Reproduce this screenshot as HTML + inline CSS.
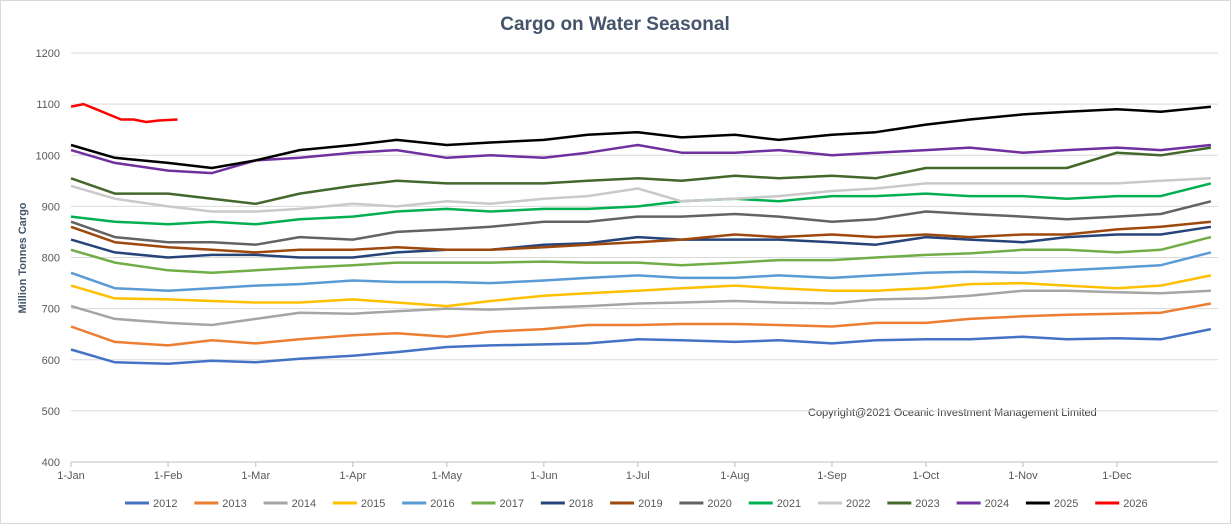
<!DOCTYPE html>
<html><head><meta charset="utf-8"><style>
html,body{margin:0;padding:0;background:#fff;}
svg{display:block;font-family:"Liberation Sans",sans-serif;}
</style></head><body>
<svg id="chart" width="1231" height="524">
<rect x="0.5" y="0.5" width="1230" height="523" fill="#fff" stroke="#d9d9d9"/>
<text x="615" y="30" text-anchor="middle" font-size="19" font-weight="bold" fill="#44546a">Cargo on Water Seasonal</text>
<text transform="translate(26,258) rotate(-90)" text-anchor="middle" font-size="11" font-weight="bold" fill="#44546a">Million Tonnes Cargo</text>
<text x="808" y="416" font-size="11" fill="#404040">Copyright@2021 Oceanic Investment Management Limited</text>
<g id="grid"></g><g id="series"></g><g id="legend"></g>
</svg>
<script>
const yTicks=[400,500,600,700,800,900,1000,1100,1200];
const monthLabels=["1-Jan","1-Feb","1-Mar","1-Apr","1-May","1-Jun","1-Jul","1-Aug","1-Sep","1-Oct","1-Nov","1-Dec"];
const monthDays=[0,31,59,90,120,151,181,212,243,273,304,334];
const sampleDays=[0,14,31,45,59,73,90,104,120,134,151,165,181,195,212,226,243,257,273,287,304,318,334,348,364];
const seriesNames=["2012","2013","2014","2015","2016","2017","2018","2019","2020","2021","2022","2023","2024","2025","2026"];
const seriesColors=["#4472c4","#ed7d31","#a5a5a5","#ffc000","#5b9bd5","#70ad47","#264478","#9e480e","#636363","#00b050","#c9c9c9","#43682b","#7030a0","#000000","#ff0000"];
const s2012=[620,595,592,598,595,602,608,615,625,628,630,632,640,638,635,638,632,638,640,640,645,640,642,640,660];
const s2013=[665,635,628,638,632,640,648,652,645,655,660,668,668,670,670,668,665,672,672,680,685,688,690,692,710];
const s2014=[705,680,672,668,680,692,690,695,700,698,702,705,710,712,715,712,710,718,720,725,735,735,732,730,735];
const s2015=[745,720,718,715,712,712,718,712,705,715,725,730,735,740,745,740,735,735,740,748,750,745,740,745,765];
const s2016=[770,740,735,740,745,748,755,752,752,750,755,760,765,760,760,765,760,765,770,772,770,775,780,785,810];
const s2017=[815,790,775,770,775,780,785,790,790,790,792,790,790,785,790,795,795,800,805,808,815,815,810,815,840];
const s2018=[835,810,800,805,805,800,800,810,815,815,825,828,840,835,835,835,830,825,840,835,830,840,845,845,860];
const s2019=[860,830,820,815,810,815,815,820,815,815,820,825,830,835,845,840,845,840,845,840,845,845,855,860,870];
const s2020=[870,840,830,830,825,840,835,850,855,860,870,870,880,880,885,880,870,875,890,885,880,875,880,885,910];
const s2021=[880,870,865,870,865,875,880,890,895,890,895,895,900,910,915,910,920,920,925,920,920,915,920,920,945];
const s2022=[940,915,900,890,890,895,905,900,910,905,915,920,935,910,915,920,930,935,945,945,945,945,945,950,955];
const s2023=[955,925,925,915,905,925,940,950,945,945,945,950,955,950,960,955,960,955,975,975,975,975,1005,1000,1015];
const s2024=[1010,985,970,965,990,995,1005,1010,995,1000,995,1005,1020,1005,1005,1010,1000,1005,1010,1015,1005,1010,1015,1010,1020];
const s2025=[1020,995,985,975,990,1010,1020,1030,1020,1025,1030,1040,1045,1035,1040,1030,1040,1045,1060,1070,1080,1085,1090,1085,1095];
const days2026=[0,4,8,12,16,20,24,28,34];
const s2026=[1095,1100,1090,1080,1070,1070,1065,1068,1070];
const allSeries=[s2012,s2013,s2014,s2015,s2016,s2017,s2018,s2019,s2020,s2021,s2022,s2023,s2024,s2025,s2026];

const NS="http://www.w3.org/2000/svg";
const X0=71,X1=1214,Y0=462,Y1=53;
function xs(d){return X0+d*(X1-X0)/365;}
function ys(v){return Y0-(v-400)*(Y0-Y1)/800;}
function mk(t,a,p){const e=document.createElementNS(NS,t);for(const k in a)e.setAttribute(k,a[k]);p.appendChild(e);return e;}
const grid=document.getElementById('grid');
yTicks.forEach(v=>{
  const l=mk('line',{x1:X0,x2:1218,y1:ys(v),y2:ys(v),stroke:v===400?'#bfbfbf':'#d9d9d9'},grid);
  
  
  const t=mk('text',{x:60,y:ys(v)+4,'text-anchor':'end','font-size':11,fill:'#595959'},grid);
  t.textContent=v;
  
  
});
monthLabels.forEach((m,i)=>{
  const x=xs(monthDays[i]);
  const tk=mk('line',{x1:x,x2:x,y1:Y0,y2:Y0+5,stroke:'#bfbfbf'},grid);
  
  
  const t=mk('text',{x:x,y:Y0+17,'text-anchor':'middle','font-size':11,fill:'#595959'},grid);
  t.textContent=m;
  
  
});
const sg=document.getElementById('series');
allSeries.forEach((s,i)=>{
  const dd=i===14?days2026:sampleDays;
  const pts=s.map((v,j)=>xs(dd[j]).toFixed(1)+','+ys(v).toFixed(1)).join(' ');
  const p=mk('polyline',{points:pts,fill:'none',stroke:seriesColors[i],'stroke-width':2.5,'stroke-linejoin':'round'},sg);
  
  
});
const lg=document.getElementById('legend');
seriesNames.forEach((n,i)=>{
  const x=125+i*69.3;
  const l=mk('line',{x1:x,x2:x+24,y1:503,y2:503,stroke:seriesColors[i],'stroke-width':3},lg);
  
  
  const t=mk('text',{x:x+28,y:507,'font-size':11,fill:'#595959'},lg);
  t.textContent=n;
  
  
});
</script>
</body></html>
